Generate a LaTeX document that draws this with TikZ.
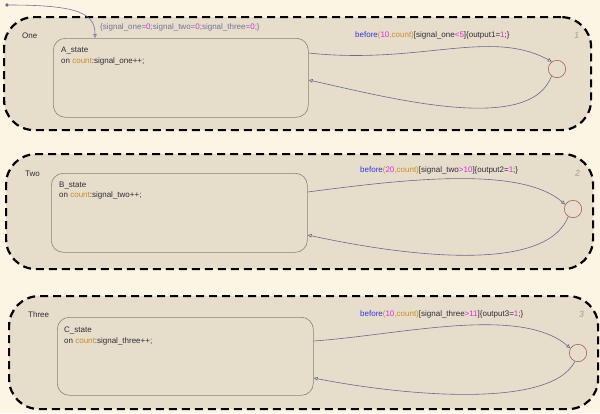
\documentclass[tikz,border=0pt]{standalone}
\usepackage{fontspec}
\setmainfont{Liberation Sans}
\usetikzlibrary{calc, arrows.meta, positioning}

\definecolor{chartbg}{RGB}{253,245,227}
\definecolor{statefill}{RGB}{230,221,202}
\definecolor{stategray}{RGB}{140,130,115}
\definecolor{junctionred}{RGB}{170,100,85}
\definecolor{transblue}{RGB}{105,105,145}
\definecolor{textdark}{RGB}{45,45,55}
\definecolor{kwblue}{RGB}{50,50,230}
\definecolor{nummag}{RGB}{225,40,225}
\definecolor{evtorange}{RGB}{205,140,40}
\definecolor{initgray}{RGB}{115,115,160}
\definecolor{numbergray}{RGB}{185,178,165}

\newcommand{\kwc}[1]{\textcolor{kwblue}{#1}}
\newcommand{\numc}[1]{\textcolor{nummag}{#1}}
\newcommand{\evtc}[1]{\textcolor{evtorange}{#1}}

\begin{document}
\begin{tikzpicture}[
    x=1pt, y=-1pt,
    every node/.style={
            font=\fontsize{8}{10}\selectfont,
            text=textdark,
            inner sep=0pt
        },
    arrow/.style={-{Triangle[open, length=4pt, width=3.5pt]}},
    parallel_block/.style={
            draw=black,
            line width=2.2pt,
            dash pattern=on 8pt off 5pt,
            rounded corners=30pt,
            fill=statefill
        },
    state_block/.style={
            draw=stategray,
            line width=0.6pt,
            rounded corners=12pt
        },
    junction/.style={circle, draw=junctionred, line width=0.6pt, minimum size=17.4pt},
    trans/.style={draw=transblue, line width=0.6pt, arrow},
    order_num/.style={font=\fontsize{9}{10}\selectfont\bfseries\itshape, text=numbergray},
    ]

    % --- Canvas ---
    \fill[chartbg] (0,0) rectangle (600,413);
    \useasboundingbox (0,0) rectangle (600,413);

    % --- Parallel states ---
    \node[parallel_block, minimum width=587pt, minimum height=113pt, anchor=north west] (one) at (3,16) {};
    \node[parallel_block, minimum width=587pt, minimum height=115pt, anchor=north west] (two) at (5,153) {};
    \node[parallel_block, minimum width=589pt, minimum height=113pt, anchor=north west] (three) at (8,295) {};

    \node[anchor=base west] (one_name) at (22,38.5) {One};
    \node[anchor=base west] (two_name) at (25,176) {Two};
    \node[anchor=base west] (three_name) at (28,317) {Three};

    \node[order_num, anchor=base west] (one_num) at (574,38.5) {1};
    \node[order_num, anchor=base west] (two_num) at (575,176) {2};
    \node[order_num, anchor=base west] (three_num) at (579,317.5) {3};

    % --- States ---
    \node[state_block, minimum width=255pt, minimum height=79pt, anchor=north west] (a_state) at (53,38) {};
    \node[anchor=base west] (a_name) at ($(a_state.north west)+(8,14.5)$) {A\_state};
    \node[anchor=base west] (a_action) at ($(a_name.base west)+(0,10.5)$) {on \evtc{count}:signal\_one++;};

    \node[state_block, minimum width=256pt, minimum height=79pt, anchor=north west] (b_state) at (51,173) {};
    \node[anchor=base west] (b_name) at ($(b_state.north west)+(8,14.7)$) {B\_state};
    \node[anchor=base west] (b_action) at ($(b_name.base west)+(0,10)$) {on \evtc{count}:signal\_two++;};

    \node[state_block, minimum width=256pt, minimum height=78pt, anchor=north west] (c_state) at (57,317) {};
    \node[anchor=base west] (c_name) at ($(c_state.north west)+(7,15.3)$) {C\_state};
    \node[anchor=base west] (c_action) at ($(c_name.base west)+(0,11)$) {on \evtc{count}:signal\_three++;};

    % --- Junctions ---
    \node[junction] (j1) at (557,69) {};
    \node[junction] (j2) at (573,209) {};
    \node[junction] (j3) at (578,353) {};

    % --- Default transition ---
    \node[circle, fill=transblue, minimum size=3.6pt] (init_dot) at (7,5) {};
    \draw[trans, draw=initgray] (init_dot) .. controls (80,5) and (95,14) .. ($(a_state.north west)+(42,0)$);
    \node[anchor=base west, text=initgray] (init_label) at (100,29.5)
        {\{signal\_one=\numc{0};signal\_two=\numc{0};signal\_three=\numc{0};\}};

    % --- Transitions ---
    \draw[trans] ($(a_state.north east)+(0,15)$) .. controls (420,65) and (490,28) .. (j1.125);
    \draw[trans] (j1.232) .. controls (530,135) and (390,98) .. ($(a_state.north east)+(0,42)$);
    \node[anchor=base west] (t1_label) at (355,37)
        {\kwc{before}\evtc{(}\numc{10}\evtc{,count)}[signal\_one\numc{<5}]\{output1=\numc{1};\}};

    \draw[trans] ($(b_state.north east)+(0,19)$) .. controls (400,180) and (520,165) .. (j2.150);
    \draw[trans] (j2.238) .. controls (545,275) and (400,255) .. ($(b_state.north east)+(0,62)$);
    \node[anchor=base west] (t2_label) at (360,172.3)
        {\kwc{before}\evtc{(}\numc{20}\evtc{,count)}[signal\_two\numc{>10}]\{output2=\numc{1};\}};

    \draw[trans] ($(c_state.north east)+(0,24)$) .. controls (400,335) and (520,305) .. (j3.148);
    \draw[trans] (j3.250) .. controls (550,410) and (400,395) .. ($(c_state.north east)+(0,61)$);
    \node[anchor=base west] (t3_label) at (360,316.7)
        {\kwc{before}\evtc{(}\numc{10}\evtc{,count)}[signal\_three\numc{>11}]\{output3=\numc{1};\}};

\end{tikzpicture}
\end{document}
